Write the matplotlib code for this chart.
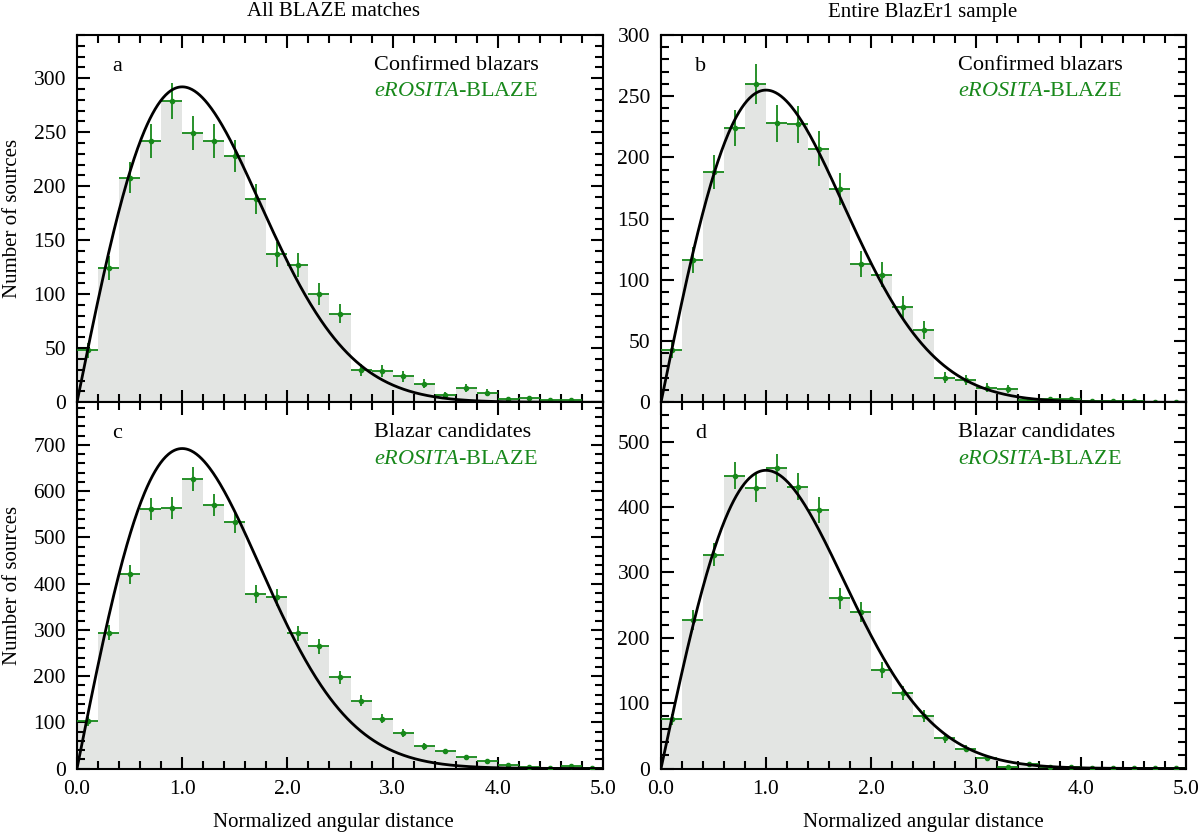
import numpy as np
import matplotlib
matplotlib.use("Agg")
import matplotlib.pyplot as plt
from matplotlib.ticker import MultipleLocator

plt.rcParams['font.family'] = ['Liberation Serif', 'DejaVu Serif']
plt.rcParams['mathtext.fontset'] = 'custom'
plt.rcParams['mathtext.rm'] = 'Liberation Serif'
plt.rcParams['mathtext.it'] = 'Liberation Serif:italic'

# ---------------- data ----------------
bin_width = 0.2
bin_centers = [0.1, 0.3, 0.5, 0.7, 0.9, 1.1, 1.3, 1.5, 1.7, 1.9,
               2.1, 2.3, 2.5, 2.7, 2.9, 3.1, 3.3, 3.5, 3.7, 3.9,
               4.1, 4.3, 4.5, 4.7, 4.9]

counts_a = [48, 124, 208, 242, 279, 249, 242, 228, 188, 137,
            127, 100, 82, 30, 29, 24, 17, 7, 13, 9,
            3, 4, 2, 2, 0]
counts_b = [43, 116, 188, 224, 260, 228, 227, 207, 174, 113,
            104, 78, 59, 20, 18, 12, 11, 2, 3, 2.5,
            1, 1, 1, 0.5, 0.5]
counts_c = [102, 294, 420, 562, 563, 626, 570, 533, 377, 370,
            292, 264, 197, 147, 108, 77, 48, 37, 24, 17,
            7, 3, 2, 5, 1]
counts_d = [75, 227, 327, 448, 429, 459, 431, 396, 260, 239,
            151, 115, 80, 46, 30, 16, 2, 7, 2.5, 2.5,
            0.7, 0.7, 0.7, 0.7, 0.7]

# Rayleigh-model curve peak heights (at x = 1)
curve_peaks = [292, 255, 692, 456]

panel_letters = ['a', 'b', 'c', 'd']
panel_labels = ['Confirmed blazars', 'Confirmed blazars',
                'Blazar candidates', 'Blazar candidates']
ylims = [340, 300, 792, 560]
ymajor = [50, 50, 100, 100]
yminor = [10, 10, 20, 20]
column_titles = ['All BLAZE matches', 'Entire BlazEr1 sample']
xlabel = 'Normalized angular distance'
ylabel = 'Number of sources'

# ---------------- styling ----------------
GREEN = '#17881a'
GREY = '#e3e5e3'
W, H = 1200, 835

fig = plt.figure(figsize=(W / 100, H / 100), dpi=100)

def axes_rect(x0, x1, y0, y1):
    return [x0 / W, 1 - y1 / H, (x1 - x0) / W, (y1 - y0) / H]

rects = [axes_rect(77, 603, 35, 402.3), axes_rect(661, 1186, 35, 402.3),
         axes_rect(77, 603, 402.3, 768.5), axes_rect(661, 1186, 402.3, 768.5)]

all_counts = [counts_a, counts_b, counts_c, counts_d]
xc = np.array(bin_centers)
xs = np.linspace(0, 5, 600)

for i, (rect, counts) in enumerate(zip(rects, all_counts)):
    ax = fig.add_axes(rect)
    n = np.array(counts, dtype=float)
    ax.bar(xc, n, width=bin_width, color=GREY, linewidth=0, zorder=1)
    mask = n > 0
    ax.errorbar(xc[mask], n[mask], xerr=bin_width / 2, yerr=np.sqrt(n[mask]),
                fmt='o', ms=3.0, color=GREEN, ecolor=GREEN, elinewidth=1.3,
                capsize=0, zorder=3)
    curve = curve_peaks[i] * xs * np.exp(0.5 - xs ** 2 / 2)
    ax.plot(xs, curve, color='black', lw=2.0, zorder=4)

    ax.set_xlim(0, 5)
    ax.set_ylim(0, ylims[i])
    ax.xaxis.set_major_locator(MultipleLocator(1.0))
    ax.xaxis.set_minor_locator(MultipleLocator(0.2))
    ax.yaxis.set_major_locator(MultipleLocator(ymajor[i]))
    ax.yaxis.set_minor_locator(MultipleLocator(yminor[i]))
    ax.tick_params(which='both', direction='in', top=True, right=True,
                   width=1.5, labelsize=15.5)
    ax.tick_params(which='major', length=9)
    ax.tick_params(which='minor', length=5.5)
    ax.tick_params(axis='y', pad=8)
    ax.tick_params(axis='x', pad=8)
    for sp in ax.spines.values():
        sp.set_linewidth(1.5)

    if i < 2:
        ax.tick_params(axis='x', labelbottom=False)
    else:
        ax.set_xticklabels(['%.1f' % v for v in ax.get_xticks()])
    ax.text(0.076, 0.915, panel_letters[i], transform=ax.transAxes,
            fontsize=16, ha='center', va='center')
    ax.text(0.565, 0.917, panel_labels[i], transform=ax.transAxes,
            fontsize=16, ha='left', va='center')
    ax.text(0.565, 0.845, r'$\mathit{eROSITA}$-BLAZE', transform=ax.transAxes,
            fontsize=16, ha='left', va='center', color=GREEN)

fig.text(333 / W, 1 - 12 / H, column_titles[0], ha='center', va='center', fontsize=15)
fig.text(923 / W, 1 - 12 / H, column_titles[1], ha='center', va='center', fontsize=15)
fig.text(333 / W, 1 - 822 / H, xlabel, ha='center', va='center', fontsize=15)
fig.text(923 / W, 1 - 822 / H, xlabel, ha='center', va='center', fontsize=15)
fig.text(13 / W, 1 - 218 / H, ylabel, ha='center', va='center', rotation=90, fontsize=15)
fig.text(13 / W, 1 - 585 / H, ylabel, ha='center', va='center', rotation=90, fontsize=15)

fig.savefig('out.png', dpi=100)
